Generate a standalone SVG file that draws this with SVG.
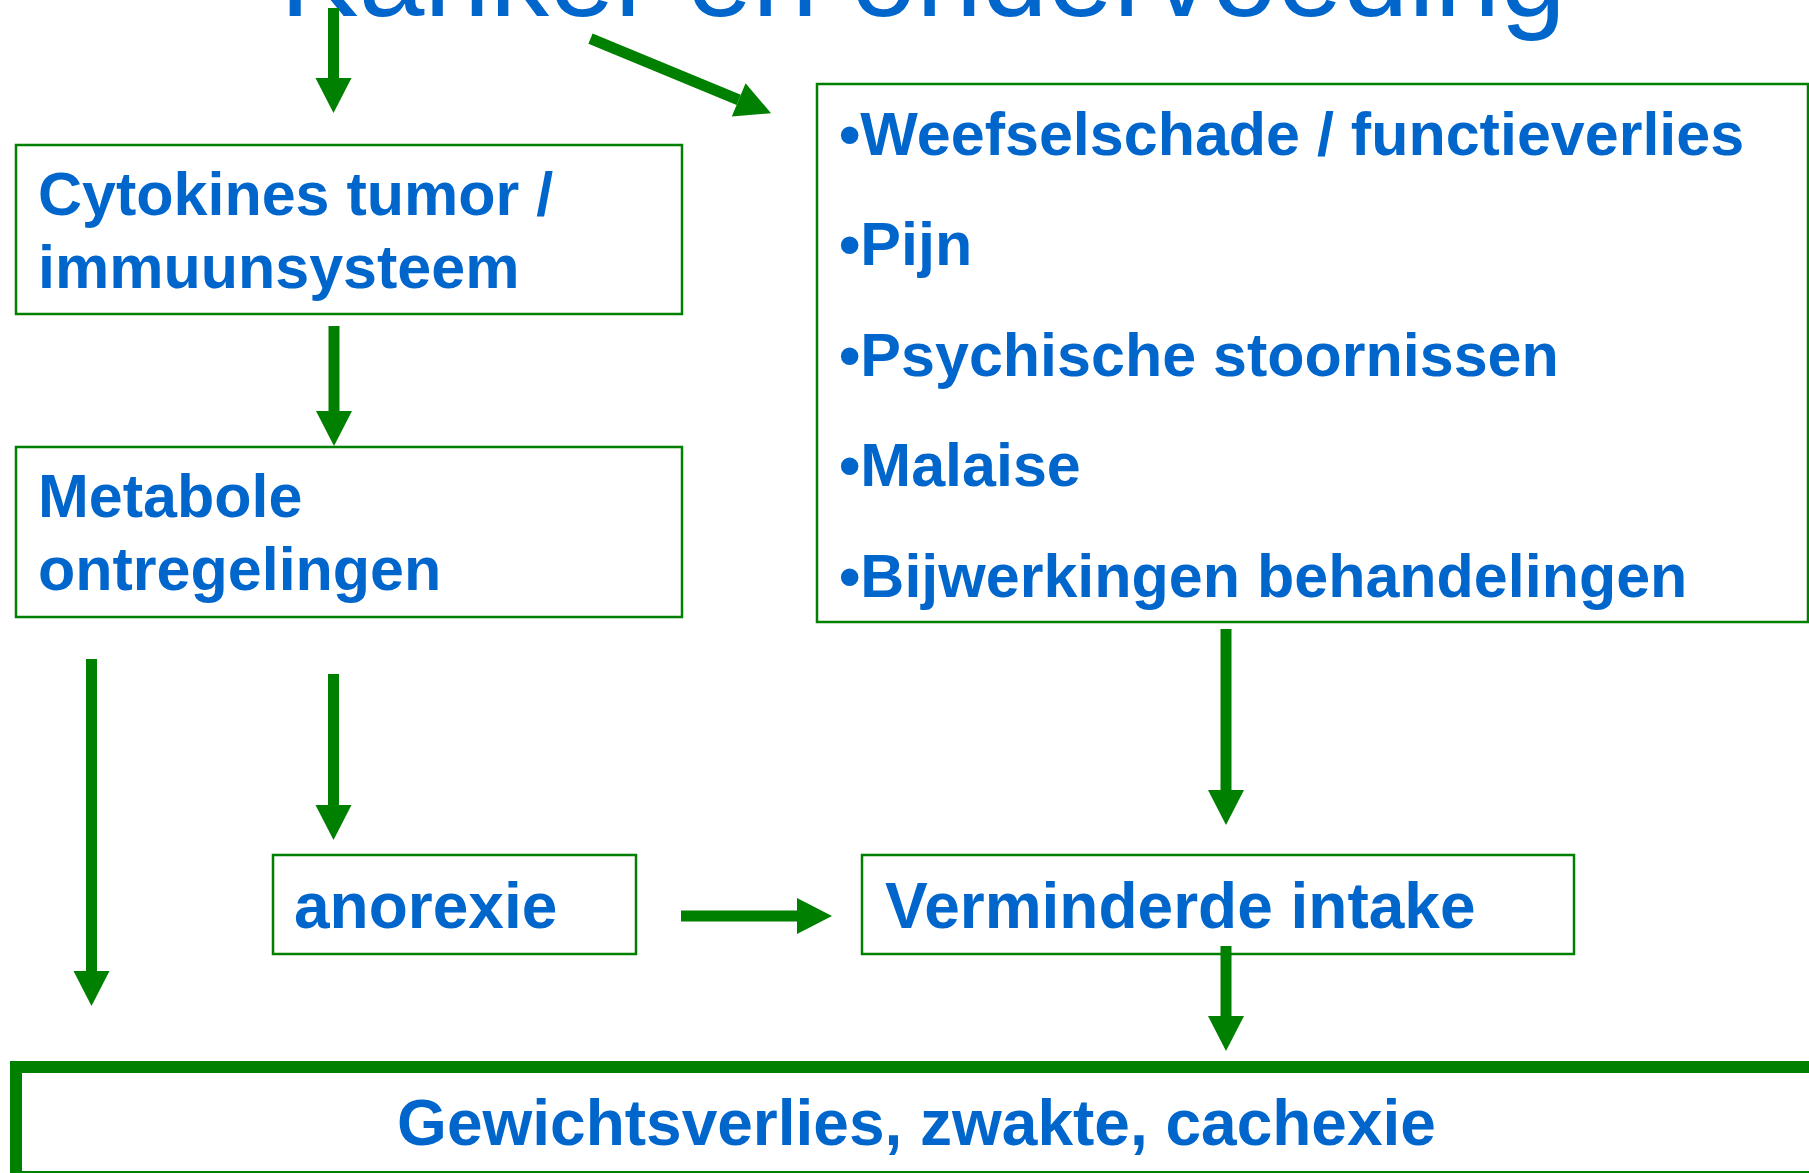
<svg xmlns="http://www.w3.org/2000/svg" width="1809" height="1173" viewBox="0 0 1809 1173">
<style>
  .box { fill: #FFFFFF; stroke: #008000; stroke-width: 2.5; }
  .bigbox { fill: #FFFFFF; stroke: #008000; stroke-width: 12; }
  .t { font-family: "Liberation Sans", Arial, sans-serif; font-weight: bold; fill: #0066CC; }
  .s61 { font-size: 61px; }
  .s64 { font-size: 64px; }
  .title { font-family: "Liberation Sans", Arial, sans-serif; font-size: 118px; fill: #0066CC; }
  .conn { stroke: #008000; stroke-width: 11; fill: none; marker-end: url(#head); }
</style>
<defs>
  <marker id="head" markerUnits="userSpaceOnUse" markerWidth="36" markerHeight="36" refX="0" refY="18" orient="auto" overflow="visible">
    <path d="M0,0 L35,18 L0,36 Z" fill="#008000"/>
  </marker>
</defs>
<rect x="0" y="0" width="1809" height="1173" fill="#FFFFFF"/>

<g id="title">
  <text class="title" x="280" y="16">Kanker en ondervoeding</text>
</g>

<g id="node-cytokines">
  <rect class="box" x="16" y="145" width="666" height="169"/>
  <text class="t s61" x="38" y="215">Cytokines tumor /</text>
  <text class="t s61" x="38" y="288">immuunsysteem</text>
</g>

<g id="node-metabole">
  <rect class="box" x="16" y="447" width="666" height="170"/>
  <text class="t s61" x="38" y="517">Metabole</text>
  <text class="t s61" x="38" y="590">ontregelingen</text>
</g>

<g id="node-factoren">
  <rect class="box" x="817" y="84" width="991" height="538"/>
  <text class="t s61" x="839" y="154.5">•Weefselschade / functieverlies</text>
  <text class="t s61" x="839" y="265">•Pijn</text>
  <text class="t s61" x="839" y="375.5">•Psychische stoornissen</text>
  <text class="t s61" x="839" y="486">•Malaise</text>
  <text class="t s61" x="839" y="596.5">•Bijwerkingen behandelingen</text>
</g>

<g id="node-anorexie">
  <rect class="box" x="273" y="855" width="363" height="99"/>
  <text class="t s64" x="294" y="928">anorexie</text>
</g>

<g id="node-intake">
  <rect class="box" x="862" y="855" width="712" height="99"/>
  <text class="t s64" x="885" y="928">Verminderde intake</text>
</g>

<g id="node-gewichtsverlies">
  <rect class="bigbox" x="16" y="1067" width="1810" height="110"/>
  <text class="t s64" x="916.5" y="1145" text-anchor="middle">Gewichtsverlies, zwakte, cachexie</text>
</g>

<g id="connectors">
  <line class="conn" x1="333.5" y1="8" x2="333.5" y2="78"/>
  <line class="conn" x1="590.5" y1="38.7" x2="738.7" y2="99.9"/>
  <line class="conn" x1="334" y1="326" x2="334" y2="411"/>
  <line class="conn" x1="91.5" y1="659" x2="91.5" y2="971"/>
  <line class="conn" x1="333.5" y1="674" x2="333.5" y2="805"/>
  <line class="conn" x1="1226" y1="629" x2="1226" y2="790"/>
  <line class="conn" x1="681" y1="916" x2="797" y2="916"/>
  <line class="conn" x1="1226" y1="946" x2="1226" y2="1016"/>
</g>
</svg>
